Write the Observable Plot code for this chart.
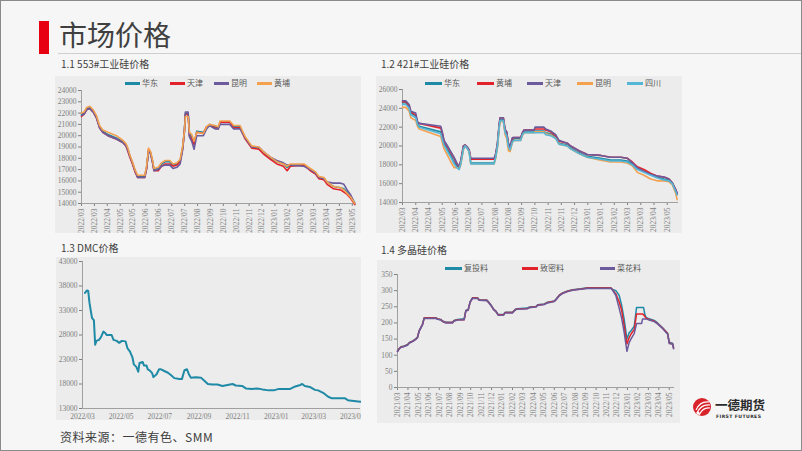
<!DOCTYPE html>
<html><head><meta charset="utf-8">
<script src="https://cdn.jsdelivr.net/npm/d3@7"></script>
<script src="https://cdn.jsdelivr.net/npm/@observablehq/plot@0.6"></script>
<style>
html,body{margin:0;padding:0;}
body{width:802px;height:451px;position:relative;overflow:hidden;background:#f6f6f6;font-family:"Noto Sans CJK SC","Noto Sans",sans-serif;}
.abs{position:absolute}
.bar{left:39px;top:21px;width:10px;height:33px;background:#e60012}
.title{left:59px;top:14px;font-size:28px;color:#404040;line-height:40px;letter-spacing:0px}
.hline{left:58px;top:53px;width:744px;height:1px;background:#cfcfcf}
.sub{font-size:10px;color:#404040;line-height:12px;white-space:nowrap}
.lg{font-family:"Noto Sans CJK SC";font-size:8px;color:#595959;line-height:10px;white-space:nowrap}
.sw{height:3px}
.src{left:60px;top:429px;font-size:12px;color:#404040;line-height:16px;letter-spacing:0.5px}
</style></head>
<body>
<script>
// ---------- DATA ----------
// 1.1 553# (x in category-tick units)
const ticks553 = ["2022/03","2022/03","2022/04","2022/05","2022/05","2022/06","2022/06","2022/07","2022/07","2022/08","2022/09","2022/10","2022/11","2022/11","2022/12","2023/01","2023/02","2023/02","2023/03","2023/04","2023/04","2023/05"];
const x553 = [0,0.2,0.4,0.65,0.9,1.15,1.4,1.65,2.05,2.7,3.2,3.45,3.6,3.75,3.95,4.15,4.35,4.9,5.05,5.2,5.35,5.5,5.62,5.95,6.2,6.5,6.85,7.1,7.4,7.65,7.85,7.98,8.06,8.27,8.37,8.55,8.73,8.94,9.45,9.7,9.93,10.35,10.6,10.75,11.5,11.8,12.3,12.45,12.7,12.95,13.2,13.75,14.1,14.65,15.15,15.65,15.95,16.2,17.25,17.75,18.15,18.4,18.8,19.05,19.55,20.1,20.35,20.6,20.85,21.2];
const s553_huadong = [21900,22000,22400,22500,22200,21700,20800,20400,20100,19800,19500,19200,18800,18200,17600,16900,16400,16400,17200,18700,18500,17800,17000,17100,17500,17700,17700,17400,17500,17800,19000,20500,22000,22000,20200,19900,19300,20400,20300,20700,21000,20800,20700,21200,21200,20800,20800,20400,19800,19400,19000,18900,18500,18000,17700,17500,17200,17400,17400,17000,16700,16300,16200,15900,15500,15400,15300,15000,14700,14000];
const s553_tianjin = [21700,21900,22300,22400,22100,21600,20700,20300,20000,19700,19400,19100,18600,18100,17500,16800,16300,16300,17100,18800,18500,17700,16900,16900,17300,17500,17500,17300,17400,17700,18900,20400,21900,21900,20000,19700,19200,20300,20200,20800,20900,20700,20600,21200,21200,20700,20700,20300,19700,19300,18900,18800,18400,17900,17500,17300,16900,17300,17400,16900,16600,16200,16100,15700,15300,15200,15000,14800,14500,13900];
const s553_kunming = [21800,21900,22300,22400,22100,21600,20700,20300,20000,19700,19400,19100,18700,18200,17600,16900,16300,16300,17100,18600,18400,17700,16900,17000,17300,17400,17400,17100,17200,17500,18800,20300,22100,22100,19900,19500,18800,20000,20000,20600,20900,20600,20600,21000,21000,20600,20600,20300,19800,19400,19000,19000,18600,18100,17800,17600,17400,17400,17300,17000,16700,16300,16200,15900,15800,15800,15700,15200,14800,14000];
const s553_huangpu = [22000,22100,22500,22600,22300,21800,20900,20500,20300,20000,19600,19300,18900,18300,17700,17000,16500,16500,17300,18900,18600,17900,17100,17200,17600,17800,17800,17500,17600,17900,19100,20400,21700,21700,20300,20100,19500,20300,20200,20800,21000,20900,20800,21300,21300,20900,20900,20500,19900,19500,19100,19000,18600,18100,17700,17500,17300,17500,17500,17100,16800,16400,16300,15900,15500,15400,15200,14900,14600,14000];

// 1.2 421#
const ticks421 = ["2022/03","2022/04","2022/04","2022/05","2022/06","2022/06","2022/07","2022/08","2022/08","2022/09","2022/10","2022/11","2022/11","2022/12","2023/01","2023/01","2023/02","2023/03","2023/03","2023/04","2023/05"];
const x421 = [0,0.25,0.5,0.63,1.0,1.13,1.26,2.89,3.02,3.14,3.4,3.65,3.9,4.1,4.28,4.4,4.6,4.73,4.9,5.03,5.16,6.92,7.04,7.17,7.3,7.37,7.62,7.75,7.87,8.0,8.13,8.3,8.43,8.93,9.06,9.18,9.94,10.01,10.69,10.82,11.19,11.57,11.82,12.45,12.7,13.33,13.96,14.97,15.72,16.48,16.98,17.36,17.74,18.24,18.74,19.25,19.75,20.13,20.38,20.63,20.75];
const s421_huadong = [24600,24600,24100,23500,23200,22400,22100,21500,20800,20300,19600,19000,18300,17900,17600,18200,19800,20100,19800,19500,18200,18200,18900,20000,22000,22800,22800,21500,21300,20000,19700,20500,20800,20800,21300,21600,21600,21600,21600,21400,21300,21000,20300,20100,19800,19300,18900,18700,18500,18500,18400,18100,17600,17300,17000,16700,16500,16400,16000,15300,14900];
const s421_huangpu = [24700,24700,24300,23600,23300,22500,22400,21900,21300,20500,19900,19300,18700,18100,17800,18400,20000,20100,19800,19600,18600,18600,19100,20200,22200,23000,23000,21700,21500,20200,19900,20800,20900,20900,21400,21700,21700,21800,21800,21700,21500,21100,20500,20300,20000,19500,19100,19000,18800,18800,18700,18300,17800,17500,17100,16800,16700,16500,16100,15400,14900];
const s421_tianjin = [24800,24800,24400,23700,23500,22600,22400,22100,21400,20600,20000,19400,18800,18200,17800,18400,20000,20100,19900,19600,18700,18700,19200,20300,22300,23000,23000,21800,21500,20300,20000,20900,20900,20900,21400,21700,21700,22000,22000,21800,21600,21200,20600,20300,20000,19500,19100,19000,18800,18800,18700,18200,17700,17300,17000,16800,16700,16500,16100,15400,15000];
const s421_kunming = [24100,24100,23700,23000,22700,22100,21800,21000,20300,19700,19000,18300,17700,17700,17600,18000,19600,20000,19700,19400,18100,18100,18700,19800,21800,22600,22600,21200,20800,19500,19400,20400,20600,20600,21100,21400,21400,21500,21500,21300,21200,20800,20200,20000,19700,19200,18800,18500,18300,18300,18200,17900,17200,16900,16500,16300,16300,16200,15900,15000,14300];
const s421_sichuan = [24400,24400,24000,23300,23000,22300,22000,21300,20600,20100,19400,18800,18100,17700,17500,18100,19700,20000,19700,19400,18100,18100,18800,19900,21900,22700,22700,21400,21100,19900,19600,20400,20600,20600,21200,21400,21400,21400,21400,21200,21100,20800,20200,20000,19700,19200,18800,18600,18400,18400,18300,18000,17500,17200,16900,16600,16400,16300,16000,15200,14800];

// 1.3 DMC
const ticksDmc = ["2022/03","2022/05","2022/07","2022/09","2022/11","2023/01","2023/03","2023/05"];
const dmcDates = ["2022-03-05","2022-03-08","2022-03-10","2022-03-12","2022-03-14","2022-03-16","2022-03-19","2022-03-21","2022-03-23","2022-03-27","2022-03-30","2022-04-03","2022-04-06","2022-04-08","2022-04-16","2022-04-19","2022-04-24","2022-04-28","2022-05-02","2022-05-08","2022-05-11","2022-05-15","2022-05-19","2022-05-21","2022-05-25","2022-05-28","2022-05-30","2022-06-04","2022-06-06","2022-06-10","2022-06-12","2022-06-15","2022-06-19","2022-06-21","2022-06-26","2022-06-30","2022-07-03","2022-07-09","2022-07-14","2022-07-19","2022-07-24","2022-08-01","2022-08-05","2022-08-09","2022-08-13","2022-08-16","2022-08-19","2022-08-27","2022-09-04","2022-09-09","2022-09-15","2022-09-22","2022-09-30","2022-10-08","2022-10-16","2022-10-24","2022-10-29","2022-11-08","2022-11-14","2022-11-24","2022-12-02","2022-12-10","2022-12-20","2022-12-28","2023-01-05","2023-01-15","2023-01-23","2023-01-31","2023-02-08","2023-02-11","2023-02-15","2023-02-23","2023-03-03","2023-03-08","2023-03-16","2023-03-24","2023-03-29","2023-04-19","2023-04-24","2023-04-30","2023-05-14"];
const dmcValues = [36600,37100,37000,34600,33000,31500,31000,26000,26800,27000,27500,28700,28400,28000,28000,27000,26800,26400,26800,26700,25300,24600,23400,22000,21500,20500,22300,22500,21800,21800,21000,20800,20200,19400,20000,21000,21000,20600,20300,19800,19200,19000,19000,20800,21000,20000,19300,19400,19300,18700,18000,17900,17900,17600,17800,18000,17700,17600,17100,17000,17100,16900,16700,16700,17000,17000,17000,17500,17800,18000,17600,17400,16800,16700,16200,15400,15100,15100,14700,14600,14400];

// 1.4 多晶硅 (x in month index from 2021/03)
const ticksPoly = ["2021/03","2021/04","2021/05","2021/06","2021/07","2021/08","2021/09","2021/10","2021/11","2021/12","2022/01","2022/02","2022/03","2022/04","2022/05","2022/06","2022/07","2022/08","2022/09","2022/10","2022/11","2022/12","2023/01","2023/02","2023/03","2023/04","2023/05"];
const xPoly = [0,0.16,0.32,0.64,0.96,1.12,1.28,1.44,1.75,1.91,2.07,2.23,2.39,2.55,3.67,3.83,4.15,4.31,4.63,5.26,5.42,5.74,6.38,6.54,6.76,6.95,7.18,7.66,7.81,8.55,8.77,9.0,9.19,9.41,9.63,10.14,10.3,11.0,11.23,11.39,12.44,12.6,13.24,13.4,14.04,14.35,14.99,15.15,15.47,15.79,16.27,16.75,17.54,18.18,20.41,20.57,20.89,21.21,21.44,21.69,21.95,22.17,22.33,22.65,22.87,23.35,23.44,23.54,23.67,23.76,23.92,24.08,24.56,24.88,25.36,25.84,26.0,26.32,26.41];
const poly_futou = [113,121,126,129,133,139,142,144,151,156,176,186,196,216,216,213,211,206,202,202,208,211,213,239,241,266,278,278,272,271,263,253,243,237,226,226,233,233,241,244,246,249,251,256,259,264,268,273,286,293,299,303,306,309,309,304,300,285,255,210,150,170,175,190,248,248,248,248,225,218,215,213,208,200,185,168,140,137,125];
const poly_zhimi = [112,120,125,128,132,138,141,143,150,155,175,185,195,215,215,212,210,205,201,201,207,210,210,238,240,265,277,277,271,270,262,252,242,236,225,225,232,232,240,243,245,248,250,255,258,263,267,272,285,292,298,302,305,308,308,303,290,265,240,190,135,155,165,180,228,228,228,225,220,215,213,210,206,198,184,167,138,135,122];
const poly_caihua = [111,119,124,127,131,137,140,142,149,154,174,184,194,214,214,211,209,204,200,200,206,209,210,237,239,264,276,276,270,269,261,251,241,235,224,224,231,231,239,242,244,247,249,254,257,262,266,271,284,291,297,301,304,307,307,302,285,245,215,170,112,140,150,168,198,198,212,212,212,212,211,209,204,197,183,165,136,134,120];

// ---------- LAYOUT ----------
const add = (cls, txt, style) => { const d = document.createElement("div"); d.className = "abs " + cls; if (txt) d.textContent = txt; if (style) Object.assign(d.style, style); document.body.appendChild(d); return d; };
add("", null, {left:"0", top:"0", width:"800px", height:"449px", border:"1px solid #8a8a8a", zIndex:"10", pointerEvents:"none"});
add("bar"); add("title", "市场价格"); add("hline");
add("sub", "1.1 553#工业硅价格", {left:"61px", top:"58px"});
add("sub", "1.2 421#工业硅价格", {left:"381px", top:"58px"});
add("sub", "1.3 DMC价格", {left:"61px", top:"242px"});
add("sub", "1.4 多晶硅价格", {left:"381px", top:"244px"});
add("src", "资料来源：一德有色、SMM");

const axisStyle = {background:"#ececec", fontFamily:"'Liberation Serif', serif", fontSize:"7.5px", color:"#7f7f7f", overflow:"hidden"};
function place(el, left, top) { el.style.position = "absolute"; el.style.left = left + "px"; el.style.top = top + "px"; document.body.appendChild(el); }
function legend(items, left, top) {
  for (const [name, color, lx, tx] of items) {
    add("sw", null, {left:(left+lx)+"px", top:(top+4)+"px", width:(tx-lx-2)+"px", background:color});
    add("lg", name, {left:(left+tx)+"px", top:top+"px"});
  }
}
function lineMarks(xs, series, width) {
  return series.map(([name, vals, color]) => Plot.line(vals, {x: (d, i) => xs[i], y: d => d, stroke: color, strokeWidth: width, strokeLinejoin:"round"}));
}
const C = {teal:"#1f8aa6", red:"#e3232c", purple:"#6c5b9c", orange:"#f3a14f", light:"#55b6d6"};

// Chart 1.1
place(Plot.plot({
  width: 306, height: 157, marginLeft: 26, marginRight: 6, marginTop: 14, marginBottom: 30,
  style: axisStyle,
  x: {domain: [0, 21.25], ticks: d3.range(ticks553.length), tickFormat: i => ticks553[i], tickRotate: -90, tickSize: 3, tickPadding: 2, label: null},
  y: {domain: [14000, 24000], ticks: d3.range(14000, 24001, 1000), tickFormat: d => String(d), tickSize: 3, tickPadding: 2, label: null},
  marks: [
    Plot.ruleY([14000], {stroke:"#a0a0a0"}), Plot.ruleX([0], {stroke:"#a0a0a0"}),
    ...lineMarks(x553, [["华东", s553_huadong, C.teal], ["天津", s553_tianjin, C.red], ["昆明", s553_kunming, C.purple], ["黄埔", s553_huangpu, C.orange]], 1.6)
  ]
}), 55, 76);
legend([["华东", C.teal, 0, 17], ["天津", C.red, 45, 62], ["昆明", C.purple, 89, 106], ["黄埔", C.orange, 132, 149]], 125, 78);

// Chart 1.2
place(Plot.plot({
  width: 306, height: 157, marginLeft: 26, marginRight: 4, marginTop: 13, marginBottom: 31,
  style: axisStyle,
  x: {domain: [0, 20.85], ticks: d3.range(ticks421.length), tickFormat: i => ticks421[i], tickRotate: -90, tickSize: 3, tickPadding: 2, label: null},
  y: {domain: [14000, 26000], ticks: d3.range(14000, 26001, 2000), tickFormat: d => String(d), tickSize: 3, tickPadding: 2, label: null},
  marks: [
    Plot.ruleY([14000], {stroke:"#a0a0a0"}), Plot.ruleX([0], {stroke:"#a0a0a0"}),
    ...lineMarks(x421, [["华东", s421_huadong, C.teal], ["黄埔", s421_huangpu, C.red], ["天津", s421_tianjin, C.purple], ["昆明", s421_kunming, C.orange], ["四川", s421_sichuan, C.light]], 1.6)
  ]
}), 376, 76);
legend([["华东", C.teal, 0, 19], ["黄埔", C.red, 52, 71], ["天津", C.purple, 102, 120], ["昆明", C.orange, 152, 170], ["四川", C.light, 202, 220]], 425, 78);

// Chart 1.3
const parseM = d3.utcParse("%Y/%m");
place(Plot.plot({
  width: 305, height: 163, marginLeft: 26, marginRight: 1, marginTop: 4, marginBottom: 12,
  style: axisStyle,
  x: {type: "utc", domain: [new Date("2022-03-01"), new Date("2023-05-14")], ticks: ticksDmc.map(parseM), tickFormat: d3.utcFormat("%Y/%m"), tickSize: 0, tickPadding: 5, label: null},
  y: {domain: [13000, 43000], ticks: d3.range(13000, 43001, 5000), tickFormat: d => String(d), tickSize: 3, tickPadding: 2, label: null},
  marks: [
    Plot.ruleY([13000], {stroke:"#a0a0a0"}), Plot.ruleX([new Date("2022-03-01")], {stroke:"#a0a0a0"}),
    Plot.line(dmcValues, {x: (d, i) => new Date(dmcDates[i]), y: d => d, stroke: C.teal, strokeWidth: 2, strokeLinejoin:"round"})
  ]
}), 56, 257);

// Chart 1.4
place(Plot.plot({
  width: 303, height: 163, marginLeft: 20, marginRight: 6, marginTop: 14, marginBottom: 36,
  style: axisStyle,
  x: {domain: [0, 26.5], ticks: d3.range(ticksPoly.length), tickFormat: i => ticksPoly[i], tickRotate: -90, tickSize: 3, tickPadding: 2, label: null},
  y: {domain: [0, 350], ticks: d3.range(0, 351, 50), tickFormat: d => String(d), tickSize: 3, tickPadding: 2, label: null},
  marks: [
    Plot.ruleY([0], {stroke:"#a0a0a0"}), Plot.ruleX([0], {stroke:"#a0a0a0"}),
    ...lineMarks(xPoly, [["复投料", poly_futou, C.teal], ["致密料", poly_zhimi, C.red], ["菜花料", poly_caihua, C.purple]], 1.5)
  ]
}), 377, 260);
legend([["复投料", C.teal, 0, 19], ["致密料", C.red, 77, 95], ["菜花料", C.purple, 155, 172]], 445, 263);

// Logo
const logo = document.createElementNS("http://www.w3.org/2000/svg", "svg");
logo.setAttribute("width", "80"); logo.setAttribute("height", "26");
logo.innerHTML = `<circle cx="10" cy="11" r="9" fill="#d9232b"/>
<path d="M4 14 Q8 5 17 6" stroke="#fff" stroke-width="1.2" fill="none"/>
<path d="M5 17 Q9 8 18 9" stroke="#fff" stroke-width="1.2" fill="none"/>
<path d="M7 19 Q11 11 18 12" stroke="#fff" stroke-width="1.2" fill="none"/>
<circle cx="6" cy="17" r="1.6" fill="#fff"/>
<text x="23" y="14" font-family="Noto Sans CJK SC" font-weight="700" font-size="12.5" fill="#2b2b2b">一德期货</text>
<text x="24" y="21.5" font-family="DejaVu Sans" font-weight="700" font-size="4.6" fill="#2b2b2b" letter-spacing="0.4">FIRST FUTURES</text>`;
place(logo, 692, 396);
</script>
</body></html>
